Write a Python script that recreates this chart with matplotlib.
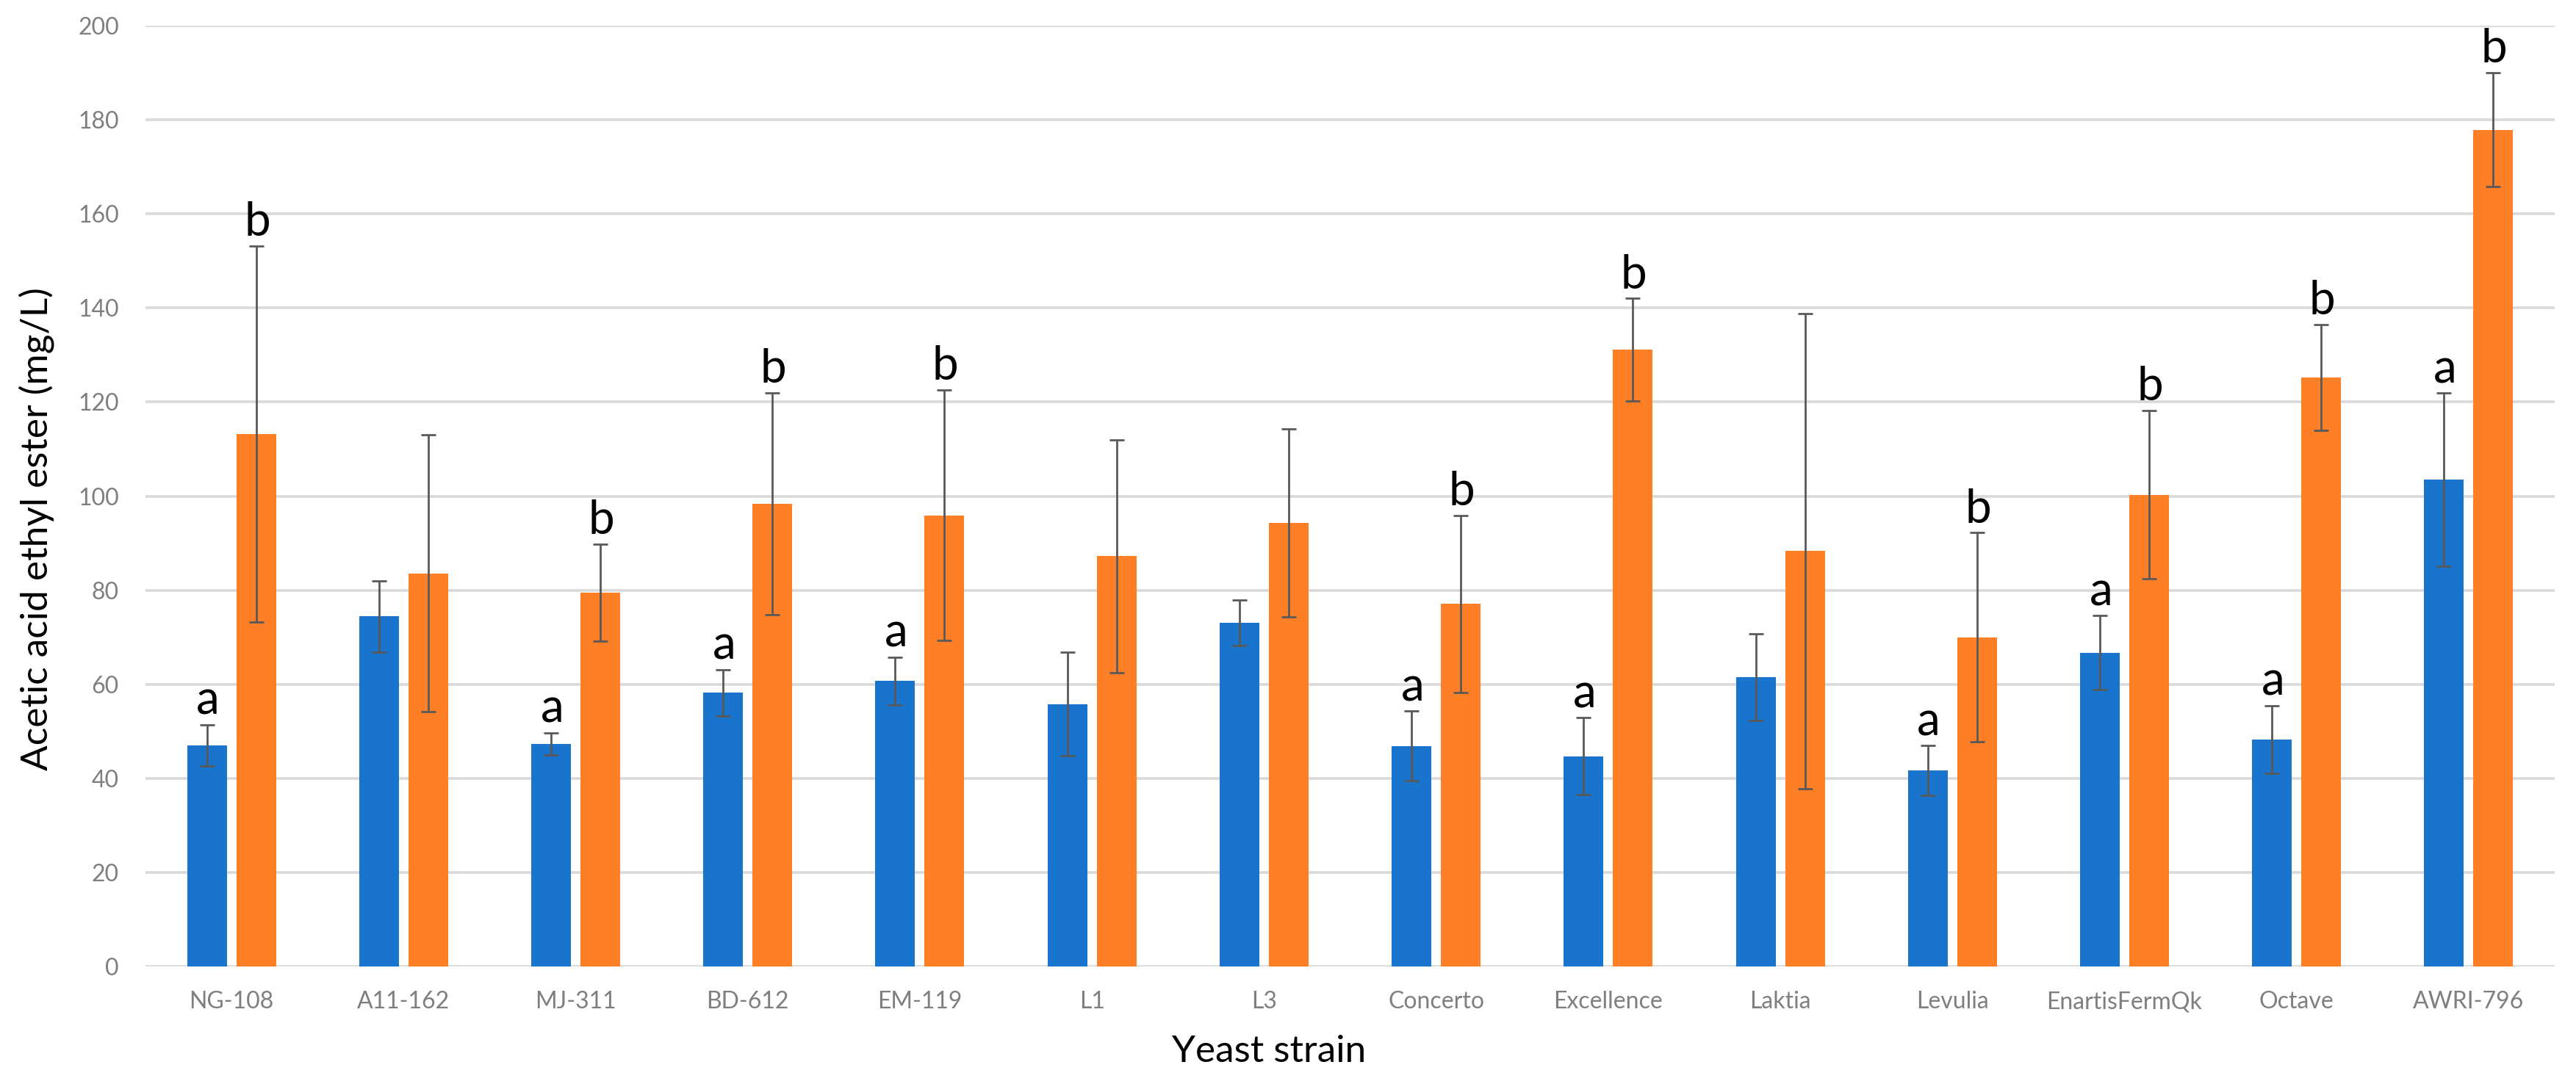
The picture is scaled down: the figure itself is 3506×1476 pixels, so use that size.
import matplotlib
matplotlib.use('Agg')
import matplotlib.pyplot as plt
import numpy as np

plt.rcParams['font.family'] = ['Lato', 'DejaVu Sans']

# strains on the x axis
strains = ['NG-108', 'A11-162', 'MJ-311', 'BD-612', 'EM-119', 'L1', 'L3',
           'Concerto', 'Excellence', 'Laktia', 'Levulia', 'EnartisFermQk',
           'Octave', 'AWRI-796']

# blue series
blue_vals = [47.0, 74.4, 47.3, 58.2, 60.7, 55.8, 73.1, 46.9, 44.7, 61.5, 41.7, 66.7, 48.3, 103.5]
blue_err = [4.4, 7.5, 2.4, 4.9, 5.1, 11.0, 4.8, 7.4, 8.2, 9.2, 5.3, 7.9, 7.2, 18.4]
blue_letters = ['a', '', 'a', 'a', 'a', '', '', 'a', 'a', '', 'a', 'a', 'a', 'a']

# orange series
orange_vals = [113.2, 83.6, 79.5, 98.4, 95.9, 87.2, 94.3, 77.1, 131.1, 88.3, 70.0, 100.3, 125.2, 177.9]
orange_err = [40.0, 29.5, 10.3, 23.6, 26.6, 24.8, 20.0, 18.8, 10.9, 50.5, 22.2, 17.9, 11.3, 12.1]
orange_letters = ['b', '', 'b', 'b', 'b', '', '', 'b', 'b', '', 'b', 'b', 'b', 'b']

BLUE = '#1874cd'
ORANGE = '#ff7f27'
ERR = '#595959'
GRID = '#d9d9d9'
TICK = '#7f7f7f'

fig = plt.figure(figsize=(35.06, 14.76), dpi=100)
ax = fig.add_axes([198 / 3506, 160 / 1476, 3279 / 3506, 1281 / 1476])

x = np.arange(len(strains))
w = 0.2306
off = 0.143

ax.bar(x - off, blue_vals, w, color=BLUE, zorder=2)
ax.bar(x + off, orange_vals, w, color=ORANGE, zorder=2)
err_kw = dict(fmt='none', ecolor=ERR, elinewidth=2, capsize=7, capthick=2, zorder=3)
ax.errorbar(x - off, blue_vals, yerr=blue_err, **err_kw)
ax.errorbar(x + off, orange_vals, yerr=orange_err, **err_kw)


# letters above the error bars
def put_letters(xs, vals, errs, letters):
    for xi, v, e, t in zip(xs, vals, errs, letters):
        if t:
            ax.annotate(t, (xi, v + e), xytext=(1, 10), textcoords='offset points',
                        ha='center', va='baseline', fontsize=46, color='black', zorder=4)


put_letters(x - off, blue_vals, blue_err, blue_letters)
put_letters(x + off, orange_vals, orange_err, orange_letters)

ax.set_xlim(-0.5, len(strains) - 0.5)
ax.set_ylim(0, 200)
ax.set_yticks(np.arange(0, 201, 20))
ax.set_xticks(x)
ax.set_xticklabels(strains)
ax.grid(axis='y', color=GRID, linewidth=2.6, zorder=0)
ax.set_axisbelow(True)
for s in ax.spines.values():
    s.set_visible(False)
ax.tick_params(axis='both', length=0, labelsize=23, labelcolor=TICK)
ax.tick_params(axis='y', pad=26)
ax.tick_params(axis='x', pad=24)

fig.text(65 / 3506, 1 - 720 / 1476, 'Acetic acid ethyl ester (mg/L)', rotation=90,
         rotation_mode='anchor', ha='center', va='baseline', fontsize=37)
fig.text(1727 / 3506, 30 / 1476, 'Yeast strain', ha='center', va='baseline', fontsize=37)

fig.savefig('out.png', dpi=100)
